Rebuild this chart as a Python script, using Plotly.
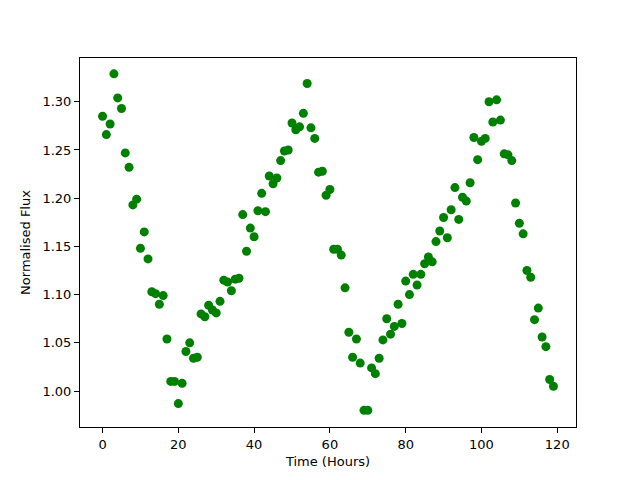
import plotly.graph_objects as go

hours = list(range(120))
flux = [
    1.285, 1.266, 1.277, 1.329, 1.304, 1.293, 1.247, 1.232, 1.193, 1.199,
    1.148, 1.165, 1.137, 1.103, 1.101, 1.090, 1.099, 1.054, 1.010, 1.010,
    0.987, 1.008, 1.041, 1.050, 1.034, 1.035, 1.080, 1.077, 1.089, 1.084,
    1.081, 1.093, 1.115, 1.113, 1.104, 1.116, 1.117, 1.183, 1.145, 1.169,
    1.160, 1.187, 1.205, 1.186, 1.223, 1.215, 1.221, 1.239, 1.249, 1.250,
    1.278, 1.271, 1.274, 1.288, 1.319, 1.273, 1.262, 1.227, 1.228, 1.203,
    1.209, 1.147, 1.147, 1.141, 1.107, 1.061, 1.035, 1.054, 1.029, 0.980,
    0.980, 1.024, 1.018, 1.034, 1.053, 1.075, 1.059, 1.067, 1.090, 1.070,
    1.114, 1.100, 1.121, 1.110, 1.121, 1.132, 1.139, 1.134, 1.155, 1.166,
    1.180, 1.159, 1.188, 1.211, 1.178, 1.201, 1.197, 1.216, 1.263, 1.240,
    1.259, 1.262, 1.300, 1.279, 1.302, 1.281, 1.246, 1.245, 1.239, 1.195,
    1.174, 1.163, 1.125, 1.118, 1.074, 1.086, 1.056, 1.046, 1.012, 1.005,
]

x_ticks = [0, 20, 40, 60, 80, 100, 120]
y_ticks = [1.00, 1.05, 1.10, 1.15, 1.20, 1.25, 1.30]

fig = go.Figure(go.Scatter(
    x=hours, y=flux, mode="markers",
    marker=dict(color="#008000", size=9, line=dict(width=0)),
))

axis_common = dict(
    showline=True, linecolor="black", linewidth=1, mirror=True,
    ticks="outside", ticklen=5, tickwidth=1, tickcolor="black",
    showgrid=False, zeroline=False,
    tickfont=dict(family="DejaVu Sans", size=13, color="black"),
)

fig.update_layout(
    width=640, height=480,
    margin=dict(l=72, r=72, t=50, b=61),
    paper_bgcolor="white", plot_bgcolor="white",
    showlegend=False,
    font=dict(family="DejaVu Sans", size=13, color="black"),
    xaxis=dict(range=[-5.95, 124.95], tickvals=x_ticks,
               title=dict(text="Time (Hours)", standoff=6,
                          font=dict(family="DejaVu Sans", size=13)),
               **axis_common),
    yaxis=dict(range=[0.9627, 1.3454], tickvals=y_ticks, tickformat=".2f",
               title=dict(text="Normalised Flux", standoff=8,
                          font=dict(family="DejaVu Sans", size=13)),
               **axis_common),
)

fig.write_html("out.html")
